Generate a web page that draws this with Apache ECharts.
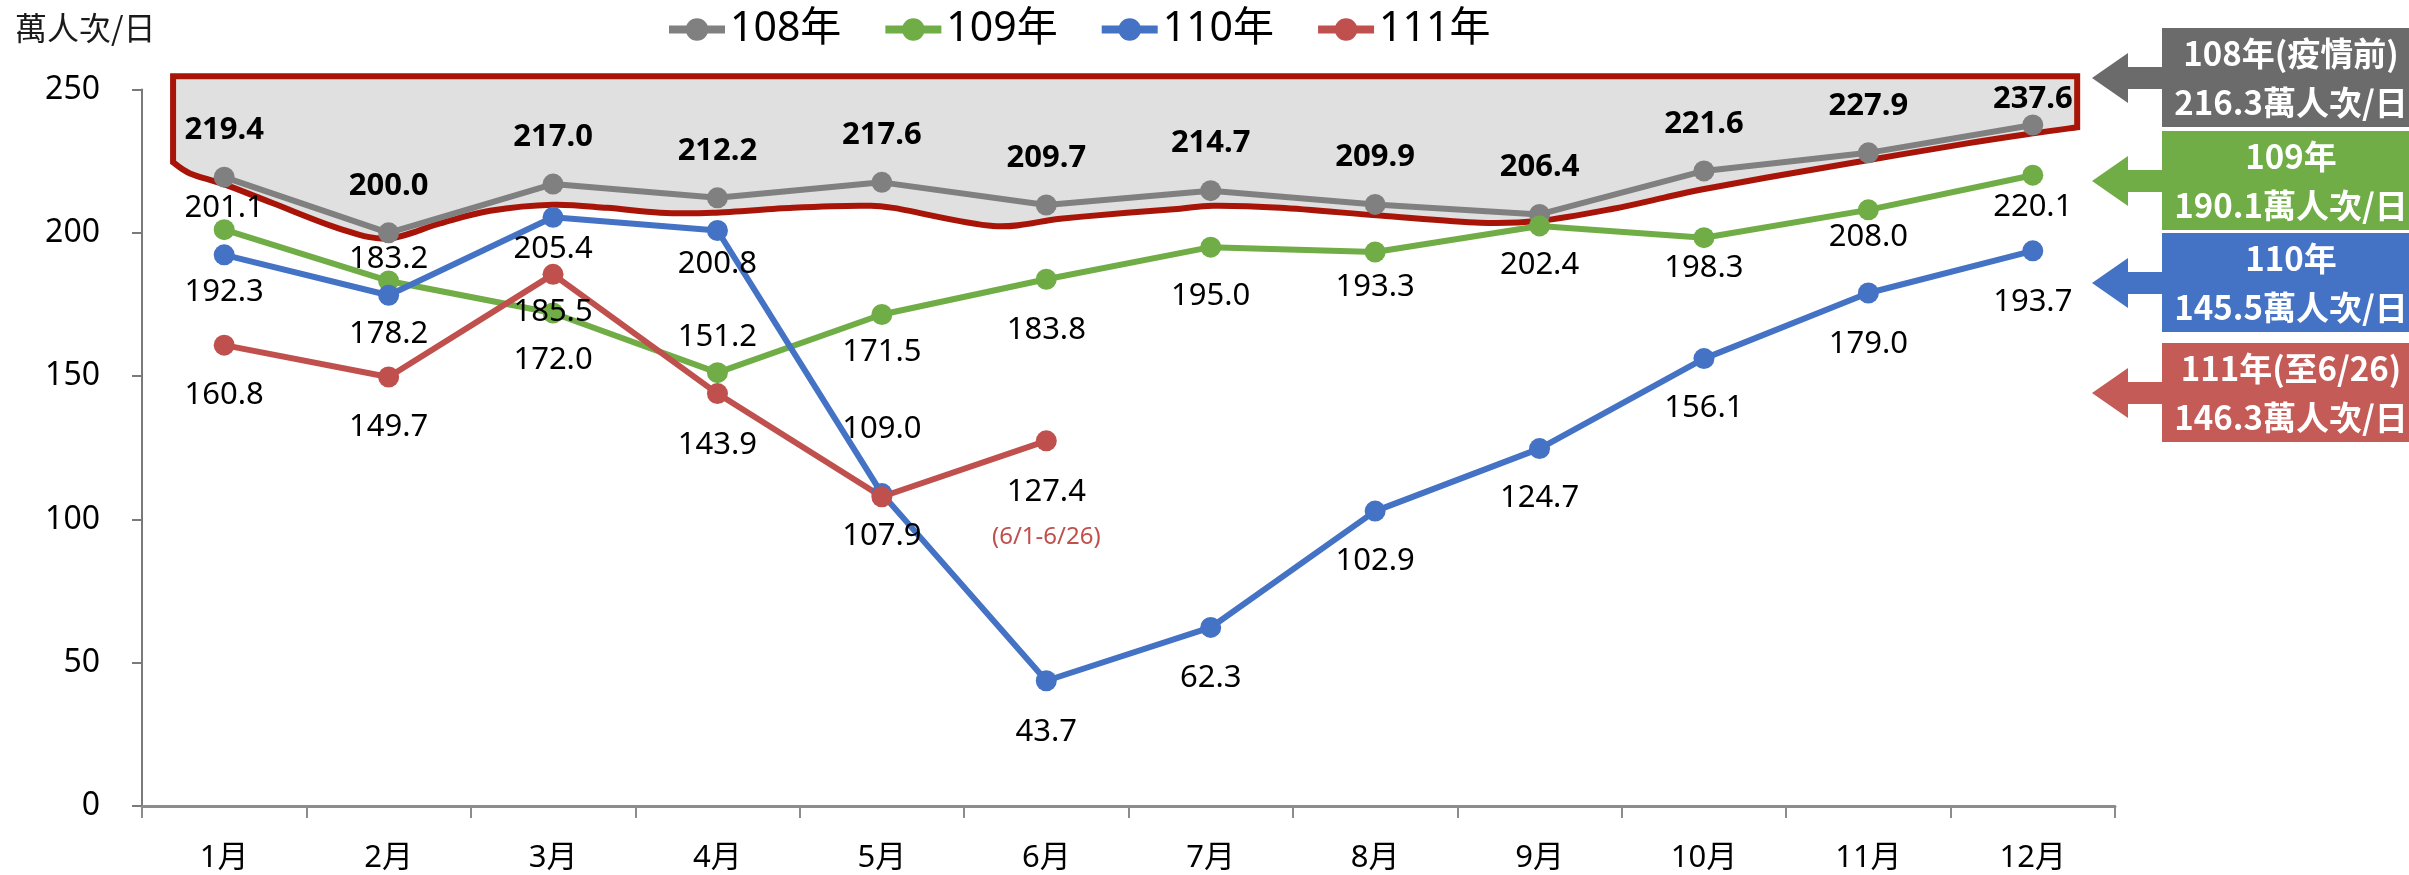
<!DOCTYPE html>
<html>
<head>
<meta charset="utf-8">
<script src="https://cdn.jsdelivr.net/npm/echarts@6/dist/echarts.min.js"></script>
<style>
html,body{margin:0;padding:0;background:#fff;}
#chart{width:2409px;height:875px;}
</style>
</head>
<body>
<div id="chart"></div>
<script>
// ---------- data ----------
const months = ['1月','2月','3月','4月','5月','6月','7月','8月','9月','10月','11月','12月'];
const seriesNames = ['108年','109年','110年','111年'];
const y108 = [219.4, 200.0, 217.0, 212.2, 217.6, 209.7, 214.7, 209.9, 206.4, 221.6, 227.9, 237.6];
const y109 = [201.1, 183.2, 172.0, 151.2, 171.5, 183.8, 195.0, 193.3, 202.4, 198.3, 208.0, 220.1];
const y110 = [192.3, 178.2, 205.4, 200.8, 109.0, 43.7, 62.3, 102.9, 124.7, 156.1, 179.0, 193.7];
const y111 = [160.8, 149.7, 185.5, 143.9, 107.9, 127.4];
const note111 = '(6/1-6/26)';
const yTicks = [0, 50, 100, 150, 200, 250];
const yUnit = '萬人次/日';
const calloutTitles = ['108年(疫情前)', '109年', '110年', '111年(至6/26)'];
const calloutAverages = [216.3, 190.1, 145.5, 146.3];

// highlighted band (annotation): [category position, value]
const bandTop = 254.6;
const bandCurve = [
  [0.189,224.6],[0.292,220.7],[0.505,216.8],[0.797,210.3],[1.204,201.4],[1.496,198.0],
  [1.813,203.3],[2.117,207.7],[2.500,209.8],[2.828,208.7],[3.151,207.0],[3.473,207.0],
  [3.960,208.7],[4.367,209.4],[4.568,208.7],[5.176,202.4],[5.584,204.9],[5.991,207.0],
  [6.314,208.4],[6.515,209.4],[6.922,208.7],[7.530,206.0],[8.139,203.5],[8.504,204.2],
  [8.948,208.4],[9.252,212.2],[9.477,215.0],[9.884,219.3],[10.493,225.3],[11.101,231.2],
  [11.502,234.7],[11.770,236.8]
];

// ---------- layout (label vertical offsets in px, callout tops) ----------
const dy108 = [-47,-47,-47,-47,-47,-47,-47,-47,-47,-47,-47,-26];
const dy109 = [-21,-22,47,-35,38,51,49,35,39,30,27,32];
const dy110 = [37,39,32,34,-64,51,51,50,50,50,51,51];
const dy111 = [50,50,38,52,39,74];
const calloutTops = [28,131,233,343];

const colors = ['#808080','#70ad47','#4472c4','#c0504d'];
const calloutColors = ['#6b6b6b','#70ad47','#4472c4','#c45b57'];
const FONT = "'Noto Sans','Noto Sans CJK TC',sans-serif";

function makeData(vals, dys, lastNote) {
  return vals.map((v, i) => {
    const item = { value: v, label: { offset: [0, dys[i]] } };
    if (lastNote && i === vals.length - 1) {
      item.label.formatter = '{a|' + v.toFixed(1) + '}\n{b|' + lastNote + '}';
    }
    return item;
  });
}

function lineSeries(idx, vals, dys, bold, note) {
  return {
    name: seriesNames[idx],
    type: 'line',
    data: makeData(vals, dys, note),
    symbol: 'circle',
    symbolSize: 21,
    z: 3,
    lineStyle: { width: 6, color: colors[idx] },
    itemStyle: { color: colors[idx] },
    label: {
      show: true,
      position: 'inside',
      formatter: p => p.value.toFixed(1),
      fontFamily: FONT,
      fontSize: 31,
      fontWeight: bold ? 'bold' : 'normal',
      color: '#000',
      rich: {
        a: { fontFamily: FONT, fontSize: 31, color: '#000', lineHeight: 45 },
        b: { fontFamily: FONT, fontSize: 24, color: '#c0504d', lineHeight: 45 }
      }
    },
    emphasis: { disabled: true }
  };
}

const chart = echarts.init(document.getElementById('chart'), null, { renderer: 'canvas' });

const graphics = [
  {
    type: 'text',
    left: 15, top: 12,
    style: { text: yUnit, fill: '#1a1a1a', font: "32px 'Noto Sans CJK TC', sans-serif" }
  }
];
calloutTitles.forEach((t, i) => {
  const T = calloutTops[i];
  graphics.push({
    type: 'group',
    children: [
      { type: 'rect', shape: { x: 2162, y: T, width: 260, height: 99 }, style: { fill: calloutColors[i] } },
      { type: 'polygon', shape: { points: [[2092, T + 50], [2128, T + 25], [2128, T + 39], [2164, T + 39], [2164, T + 61], [2128, T + 61], [2128, T + 75]] }, style: { fill: calloutColors[i] } },
      { type: 'text', style: { text: t, x: 2291, y: T + 25, align: 'center', verticalAlign: 'middle', textAlign: 'center', textVerticalAlign: 'middle', fill: '#fff', font: "bold 33px 'Noto Sans CJK TC', sans-serif" } },
      { type: 'text', style: { text: calloutAverages[i].toFixed(1) + yUnit, x: 2291, y: T + 74, align: 'center', verticalAlign: 'middle', textAlign: 'center', textVerticalAlign: 'middle', fill: '#fff', font: "bold 33px 'Noto Sans CJK TC', sans-serif" } }
    ]
  });
});

const option = {
  animation: false,
  backgroundColor: '#fff',
  textStyle: { fontFamily: FONT },
  grid: { left: 142, right: 294, top: 89.5, bottom: 69 },
  legend: {
    data: seriesNames,
    left: 660, top: 4,
    itemWidth: 56, itemHeight: 28, itemGap: 40,
    lineStyle: { width: 8 },
    textStyle: { fontFamily: FONT, fontSize: 41, color: '#000' }
  },
  xAxis: [
    {
      type: 'category',
      data: months,
      axisLine: { lineStyle: { color: '#8c8c8c', width: 3 } },
      axisTick: { show: true, length: 12, lineStyle: { color: '#8c8c8c', width: 2 } },
      axisLabel: { margin: 37, fontFamily: FONT, fontSize: 31, color: '#000' }
    },
    { type: 'value', min: 0, max: 12, show: false }
  ],
  yAxis: {
    type: 'value', min: yTicks[0], max: yTicks[yTicks.length - 1], interval: 50,
    axisLine: { show: true, lineStyle: { color: '#7a7a7a', width: 2 } },
    axisTick: { show: true, length: 10, lineStyle: { color: '#7a7a7a', width: 2 } },
    splitLine: { show: false },
    axisLabel: { margin: 42, fontFamily: FONT, fontSize: 32, color: '#000' }
  },
  graphic: graphics,
  series: [
    {
      type: 'custom',
      name: 'band',
      xAxisIndex: 1,
      yAxisIndex: 0,
      coordinateSystem: 'cartesian2d',
      clip: false,
      silent: true,
      z: 1,
      data: [[0, 0]],
      renderItem: function (params, api) {
        const pts = bandCurve.map(p => api.coord(p));
        const tl = api.coord([bandCurve[0][0], bandTop]);
        const tr = api.coord([bandCurve[bandCurve.length - 1][0], bandTop]);
        const rev = pts.slice().reverse();
        let d = 'M' + tl[0] + ',' + tl[1] + ' L' + tr[0] + ',' + tr[1] + ' L' + rev[0][0] + ',' + rev[0][1];
        for (let i = 0; i < rev.length - 1; i++) {
          const p0 = rev[i - 1] || rev[i], p1 = rev[i], p2 = rev[i + 1], p3 = rev[i + 2] || rev[i + 1];
          const c1 = [p1[0] + (p2[0] - p0[0]) / 6, p1[1] + (p2[1] - p0[1]) / 6];
          const c2 = [p2[0] - (p3[0] - p1[0]) / 6, p2[1] - (p3[1] - p1[1]) / 6];
          d += ' C' + c1[0] + ',' + c1[1] + ' ' + c2[0] + ',' + c2[1] + ' ' + p2[0] + ',' + p2[1];
        }
        d += ' Z';
        return {
          type: 'path',
          shape: { pathData: d },
          style: { fill: '#e0e0e0', stroke: '#a81508', lineWidth: 6, lineJoin: 'miter' }
        };
      }
    },
    lineSeries(0, y108, dy108, true),
    lineSeries(1, y109, dy109, false),
    lineSeries(2, y110, dy110, false),
    lineSeries(3, y111, dy111, false, note111)
  ]
};
chart.setOption(option);
</script>
</body>
</html>
